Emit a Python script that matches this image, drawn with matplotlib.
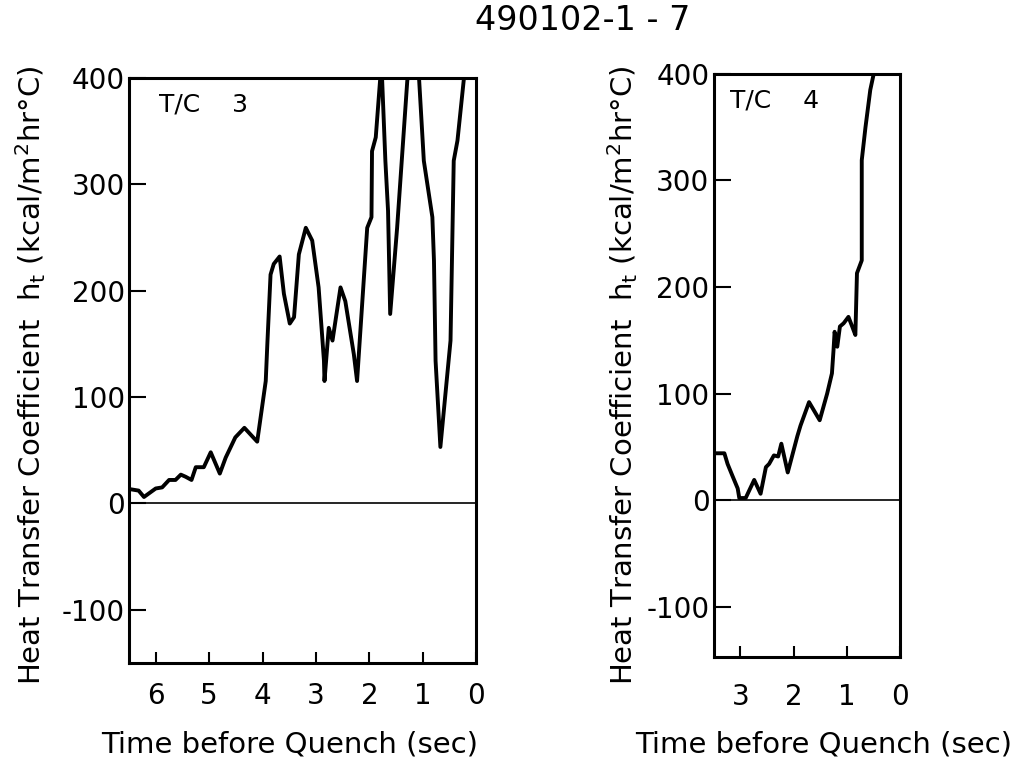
import matplotlib
matplotlib.use("Agg")
import matplotlib.pyplot as plt

# T/C 3 : time before quench (sec) vs heat transfer coefficient
t3 = [6.44, 6.32, 6.22, 6.00, 5.88, 5.75, 5.63, 5.53, 5.44, 5.33, 5.25, 5.10,
      4.97, 4.80, 4.69, 4.51, 4.34, 4.10, 4.01, 3.94, 3.91, 3.85, 3.79, 3.68,
      3.60, 3.49, 3.41, 3.32, 3.19, 3.07, 2.95, 2.85, 2.84, 2.76, 2.69, 2.54,
      2.45, 2.29, 2.23, 2.18, 2.04, 1.96, 1.95, 1.88, 1.80, 1.77, 1.70, 1.65,
      1.61, 1.48, 1.29, 1.17, 1.07, 0.98, 0.82, 0.79, 0.76, 0.67, 0.48, 0.42,
      0.35, 0.23, 0.15]
h3 = [13, 12, 6, 14, 15, 22, 22, 27, 25, 22, 34, 34,
      48, 28, 43, 62, 71, 58, 90, 115, 150, 215, 225, 232,
      197, 169, 175, 234, 259, 247, 203, 134, 115, 165, 153, 203,
      190, 140, 115, 153, 259, 269, 331, 344, 397, 410, 322, 275,
      178, 259, 397, 450, 400, 322, 269, 228, 134, 53, 153, 322,
      341, 399, 440]

# T/C 4
t4 = [3.46, 3.30, 3.24, 3.15, 3.05, 3.02, 2.90, 2.74, 2.62, 2.52, 2.46, 2.37,
      2.29, 2.23, 2.11, 1.93, 1.87, 1.71, 1.51, 1.37, 1.28, 1.25, 1.23, 1.18,
      1.13, 1.06, 0.97, 0.90, 0.84, 0.81, 0.72, 0.72, 0.65, 0.56, 0.50, 0.45]
h4 = [44, 44, 34, 23, 11, 2, 2, 19, 6, 31, 34, 42,
      41, 53, 26, 60, 70, 92, 75, 100, 119, 141, 158, 144,
      163, 166, 172, 163, 155, 213, 225, 319, 350, 385, 399, 430]

ylab = r"Heat Transfer Coefficient  h$_\mathrm{t}$ (kcal/m$^2$hr°C)"
xlab = "Time before Quench (sec)"

fig = plt.figure(figsize=(10.24, 7.70), dpi=100)
ax1 = fig.add_axes([0.126, 0.139, 0.339, 0.760])
ax2 = fig.add_axes([0.697, 0.147, 0.182, 0.757])

for ax, t, h, xmax, ticks, ymin, tag, xpad in [
        (ax1, t3, h3, 6.5, [6, 5, 4, 3, 2, 1, 0], -150, "T/C    3", 14),
        (ax2, t4, h4, 3.5, [3, 2, 1, 0], -147, "T/C    4", 19)]:
    ax.plot(t, h, color="black", lw=2.8, solid_joinstyle="round")
    ax.axhline(0, color="black", lw=1.2)
    ax.set_xlim(xmax, 0)
    ax.set_ylim(ymin, 400)
    ax.set_xticks(ticks)
    ax.set_yticks([-100, 0, 100, 200, 300, 400])
    ax.set_yticklabels(["-100", "0", "100", "200", "300", "400"])
    ax.tick_params(axis="y", direction="in", length=12, width=1.5, labelsize=20, pad=3)
    ax.tick_params(axis="x", direction="in", length=8, width=1.5, labelsize=20, pad=xpad)
    for s in ax.spines.values():
        s.set_linewidth(2.2)
    ax.text(0.085, 0.955, tag, transform=ax.transAxes, fontsize=18, va="center")

fig.text(0.030, 0.513, ylab, rotation=90, fontsize=21, ha="center", va="center")
fig.text(0.608, 0.513, ylab, rotation=90, fontsize=21, ha="center", va="center")
fig.text(0.283, 0.0325, xlab, fontsize=21, ha="center", va="center")
fig.text(0.804, 0.0325, xlab, fontsize=21, ha="center", va="center")
fig.text(0.569, 0.973, "490102-1 - 7", fontsize=24, ha="center", va="center")

fig.savefig("out.png", dpi=100)
